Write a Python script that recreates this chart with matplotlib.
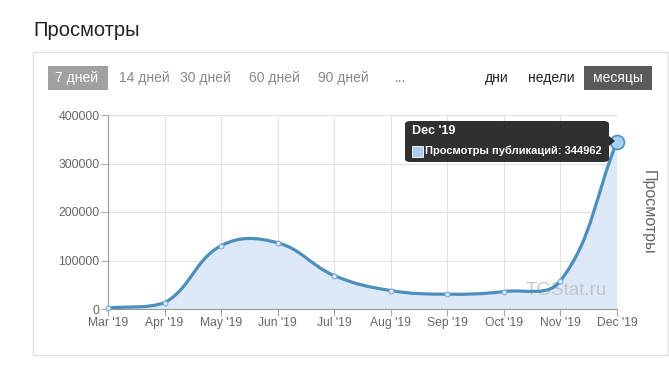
"""Monthly views chart (TGStat style)."""

import matplotlib.pyplot as plt
import numpy as np
from matplotlib.patches import FancyBboxPatch, Rectangle, PathPatch, Polygon
from matplotlib.path import Path

plt.rcParams["font.family"] = ["Liberation Sans", "DejaVu Sans"]

months = ["Mar '19", "Apr '19", "May '19", "Jun '19", "Jul '19",
          "Aug '19", "Sep '19", "Oct '19", "Nov '19", "Dec '19"]
views = [2000, 13000, 130500, 136500, 69000, 38000, 30500, 36000, 58000, 344962]
y_ticks = [0, 100000, 200000, 300000, 400000]
period_buttons = ["7 дней", "14 дней", "30 дней", "60 дней", "90 дней", "..."]
scale_buttons = ["дни", "недели", "месяцы"]

LINE = "#4b8fbd"
FILL = "#dde9f9"
W, H = 669, 365


def fx(px):
    return px / W


def fy(py):
    return 1 - py / H


def spline_path(xs, ys, sx, sy, tension=0.4):
    # Chart.js style bezier, control points computed in pixel space
    px = np.asarray(xs, float) * sx
    py = np.asarray(ys, float) * sy
    n = len(px)
    prev_c, next_c = [], []
    for i in range(n):
        p0 = (px[max(i - 1, 0)], py[max(i - 1, 0)])
        p1 = (px[i], py[i])
        p2 = (px[min(i + 1, n - 1)], py[min(i + 1, n - 1)])
        d01 = np.hypot(p1[0] - p0[0], p1[1] - p0[1])
        d12 = np.hypot(p2[0] - p1[0], p2[1] - p1[1])
        tot = d01 + d12
        s01 = d01 / tot if tot else 0
        s12 = d12 / tot if tot else 0
        fa, fb = tension * s01, tension * s12
        prev_c.append((p1[0] - fa * (p2[0] - p0[0]), p1[1] - fa * (p2[1] - p0[1])))
        next_c.append((p1[0] + fb * (p2[0] - p0[0]), p1[1] + fb * (p2[1] - p0[1])))
    verts = [(px[0] / sx, py[0] / sy)]
    codes = [Path.MOVETO]
    for i in range(n - 1):
        a = next_c[i]
        b = prev_c[i + 1]
        a = (a[0], min(max(a[1], 0), 400000 * sy))
        b = (b[0], min(max(b[1], 0), 400000 * sy))
        verts += [(a[0] / sx, a[1] / sy), (b[0] / sx, b[1] / sy), (px[i + 1] / sx, py[i + 1] / sy)]
        codes += [Path.CURVE4] * 3
    return verts, codes


fig = plt.figure(figsize=(W / 100, H / 100), dpi=100)
fig.patch.set_facecolor("white")

# title and panel
fig.text(fx(33), fy(30), "Просмотры", fontsize=14.5, color="#222222", va="center", ha="left")
fig.patches.append(Rectangle((fx(33), fy(355)), fx(668) - fx(33), fy(52) - fy(355),
                             transform=fig.transFigure, facecolor="white",
                             edgecolor="#dddddd", linewidth=1, zorder=-2))

# period buttons
fig.patches.append(Rectangle((fx(48), fy(90)), fx(60), fy(66) - fy(90), transform=fig.transFigure,
                             facecolor="#a0a0a0", edgecolor="none", zorder=-1))
btn_x = [77, 144, 205, 274, 343, 400]
for label, x in zip(period_buttons, btn_x):
    fig.text(fx(x), fy(78), label, fontsize=10, ha="center", va="center",
             color="white" if label == "7 дней" else "#888888")

fig.patches.append(Rectangle((fx(584), fy(90)), fx(68), fy(66) - fy(90), transform=fig.transFigure,
                             facecolor="#5a5a5a", edgecolor="none", zorder=-1))
for label, x in zip(scale_buttons, [497, 551, 618]):
    fig.text(fx(x), fy(78), label, fontsize=10, ha="center", va="center",
             color="white" if label == "месяцы" else "#222222")

# chart area
ax = fig.add_axes([fx(108), fy(309), fx(617) - fx(108), fy(115) - fy(309)])
ax.patch.set_alpha(0)
xs = np.arange(len(months))
ax.set_xlim(0, len(months) - 1)
ax.set_ylim(0, 400000)

sx = (617 - 108) / (len(months) - 1)
sy = (309 - 115) / 400000
verts, codes = spline_path(xs, views, sx, sy)
fill_verts = verts + [(xs[-1], 0), (xs[0], 0), (xs[0], views[0])]
fill_codes = codes + [Path.LINETO, Path.LINETO, Path.CLOSEPOLY]
ax.add_patch(PathPatch(Path(fill_verts, fill_codes), facecolor=FILL, edgecolor="none", zorder=1))
ax.add_patch(PathPatch(Path(verts, codes), facecolor="none", edgecolor=LINE, linewidth=2.3,
                       zorder=3, capstyle="round", joinstyle="round"))
ax.plot(xs[:-1], views[:-1], "o", markersize=3.5, markerfacecolor="#dce9f8",
        markeredgecolor="#7aaed3", markeredgewidth=0.8, zorder=4, clip_on=False)
ax.plot(xs[-1:], views[-1:], "o", markersize=10, markerfacecolor="#a9cff0",
        markeredgecolor=LINE, markeredgewidth=1.2, zorder=5, clip_on=False)

ax.set_xticks(xs)
ax.set_xticklabels(months)
ax.set_yticks(y_ticks)
ax.set_yticklabels([str(v) for v in y_ticks])
ax.tick_params(labelsize=8.7, colors="#666666", length=5, width=0.8, pad=1, color="#aaaaaa")
ax.grid(True, color="#e2e2e2", linewidth=0.8, zorder=0)
ax.set_axisbelow(True)
for side in ["top", "right"]:
    ax.spines[side].set_visible(False)
for side in ["left", "bottom"]:
    ax.spines[side].set_color("#9a9a9a")
    ax.spines[side].set_linewidth(0.8)

# watermark
ax.text(0.98, 0.095, "TGStat.ru", transform=ax.transAxes, fontsize=13.5, color="#bbbbbb",
        ha="right", va="center", alpha=0.8, zorder=2)

# right axis title
fig.text(fx(648), fy(212), "Просмотры", rotation=-90, fontsize=11.5, color="#666666",
         ha="center", va="center")

# tooltip
tip = FancyBboxPatch((fx(405), fy(162)), fx(204), fy(121) - fy(162),
                     boxstyle="round,pad=0,rounding_size=0.008", transform=fig.transFigure,
                     facecolor="#1e1e1e", edgecolor="none", alpha=0.92, zorder=10)
fig.patches.append(tip)
fig.patches.append(Polygon([(fx(609), fy(136)), (fx(615), fy(141)), (fx(609), fy(146))],
                           closed=True, transform=fig.transFigure, facecolor="#1e1e1e",
                           edgecolor="none", alpha=0.92, zorder=10))
fig.text(fx(412), fy(131), "Dec '19", fontsize=9, fontweight="bold", color="white",
         ha="left", va="center", zorder=11)
fig.patches.append(Rectangle((fx(412), fy(157)), fx(11), fy(146) - fy(157), transform=fig.transFigure,
                             facecolor="#a9cff0", edgecolor="white", linewidth=0.6, zorder=11))
fig.text(fx(425), fy(151), f"Просмотры публикаций: {views[-1]}", fontsize=8, fontweight="bold",
         color="white", ha="left", va="center", zorder=11)

fig.savefig("out.png", dpi=100, facecolor="white")
